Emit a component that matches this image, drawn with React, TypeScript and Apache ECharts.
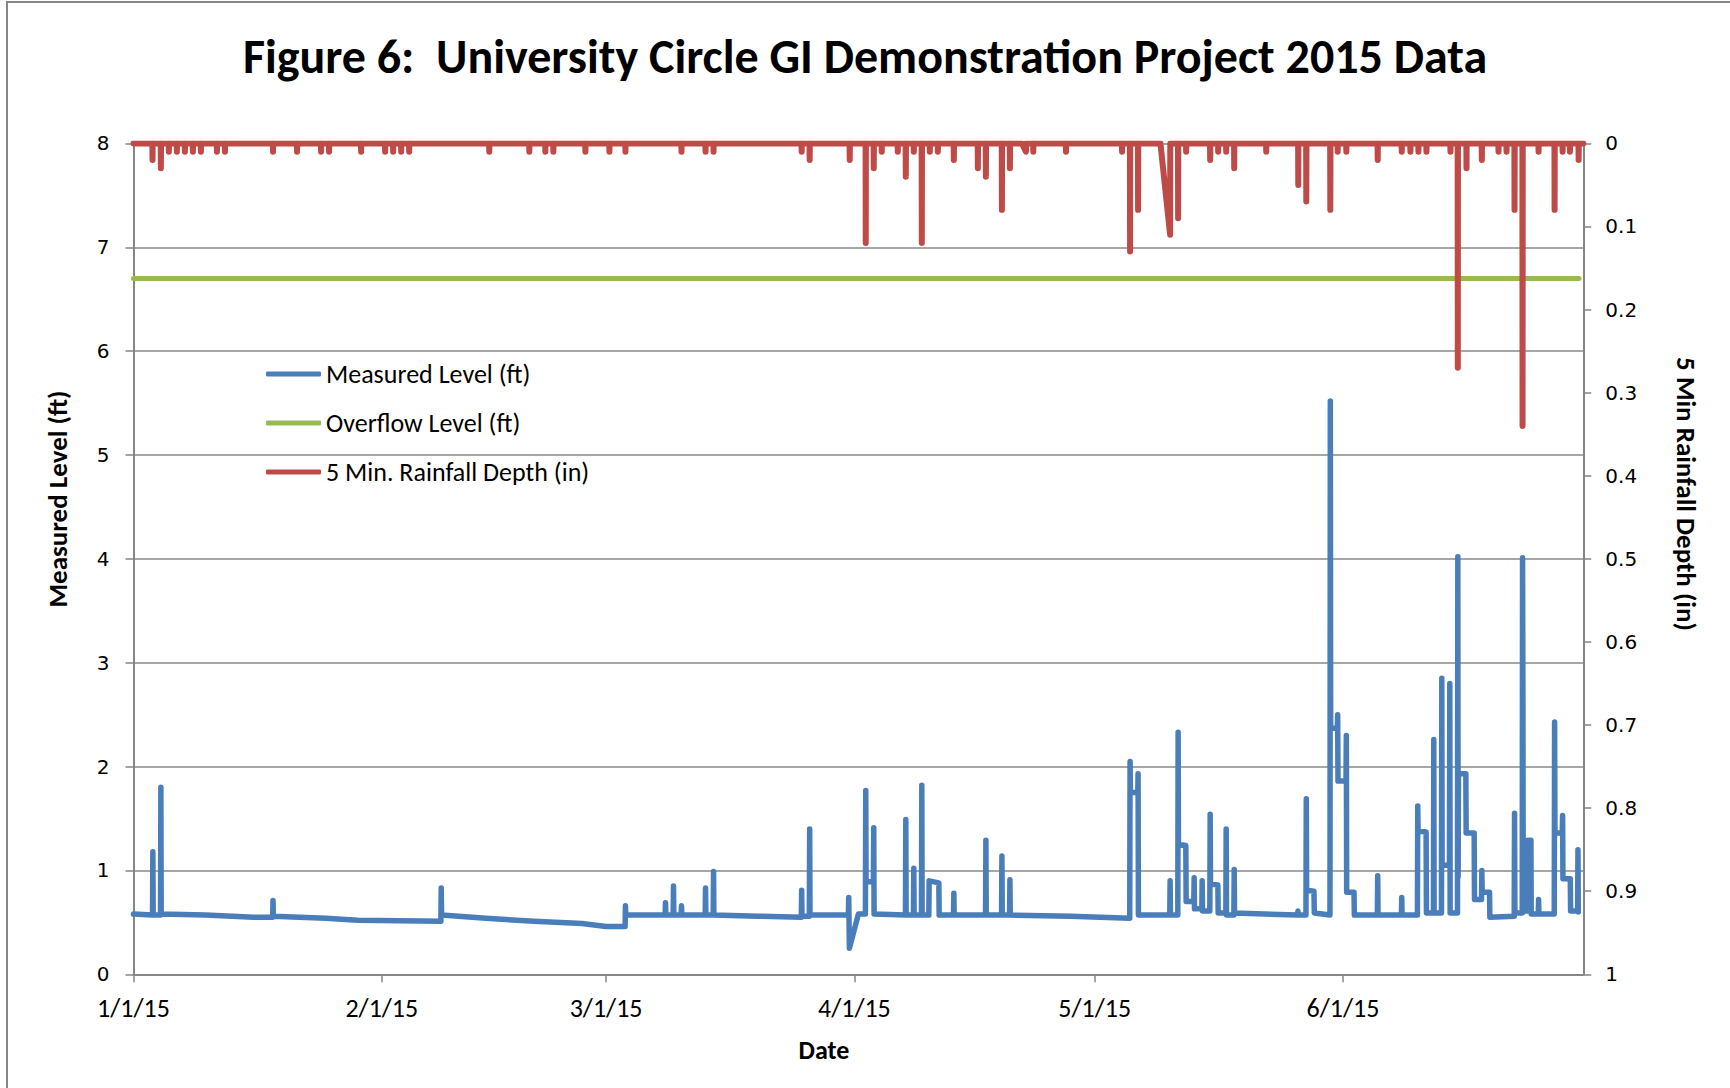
import React, { useEffect, useRef } from 'react';
import * as echarts from 'echarts';

const chartTitle = 'Figure 6:  University Circle GI Demonstration Project 2015 Data';
const seriesNames = ['Measured Level (ft)', 'Overflow Level (ft)', '5 Min. Rainfall Depth (in)'];
const leftAxisTitle = 'Measured Level (ft)';
const rightAxisTitle = '5 Min Rainfall Depth (in)';
const xAxisTitle = 'Date';
const dateRange = ['2015-01-01 00:00', '2015-07-01 00:00'];
const leftAxisRange = [0, 8, 1];
const rightAxisRange = [0, 1, 0.1];

const overflowLevel: [string, number][] = [
  ['2015-01-01 00:00', 6.7],
  ['2015-06-30 11:00', 6.7],
];

const measuredLevel: [string, number][] = [
  ['2015-01-01 00:00', 0.58],
  ['2015-01-03 09:00', 0.57], ['2015-01-03 10:00', 1.18], ['2015-01-03 11:00', 0.57],
  ['2015-01-04 09:00', 0.57], ['2015-01-04 10:00', 1.80], ['2015-01-04 11:00', 0.58],
  ['2015-01-10 00:00', 0.57],
  ['2015-01-16 00:00', 0.55],
  ['2015-01-18 09:00', 0.55], ['2015-01-18 10:00', 0.71], ['2015-01-18 11:00', 0.56],
  ['2015-01-25 00:00', 0.54],
  ['2015-01-29 00:00', 0.52],
  ['2015-02-08 09:00', 0.51], ['2015-02-08 10:00', 0.83], ['2015-02-08 11:00', 0.57],
  ['2015-02-14 00:00', 0.54],
  ['2015-02-20 00:00', 0.51],
  ['2015-02-26 00:00', 0.49],
  ['2015-03-01 00:00', 0.46],
  ['2015-03-03 09:00', 0.46], ['2015-03-03 10:00', 0.66], ['2015-03-03 11:00', 0.57],
  ['2015-03-08 09:00', 0.57], ['2015-03-08 10:00', 0.69], ['2015-03-08 11:00', 0.57],
  ['2015-03-09 09:00', 0.57], ['2015-03-09 10:00', 0.85], ['2015-03-09 11:00', 0.57],
  ['2015-03-10 09:00', 0.57], ['2015-03-10 10:00', 0.66], ['2015-03-10 11:00', 0.57],
  ['2015-03-13 09:00', 0.57], ['2015-03-13 10:00', 0.83], ['2015-03-13 11:00', 0.57],
  ['2015-03-14 09:00', 0.57], ['2015-03-14 10:00', 0.99], ['2015-03-14 11:00', 0.57],
  ['2015-03-20 00:00', 0.56],
  ['2015-03-25 09:00', 0.55], ['2015-03-25 10:00', 0.81], ['2015-03-25 11:00', 0.56],
  ['2015-03-26 09:00', 0.56], ['2015-03-26 10:00', 1.40], ['2015-03-26 11:00', 0.57],
  ['2015-03-31 06:00', 0.57], ['2015-03-31 07:00', 0.74], ['2015-03-31 09:00', 0.25],
  ['2015-04-01 12:00', 0.58],
  ['2015-04-02 09:00', 0.58], ['2015-04-02 10:00', 1.77], ['2015-04-02 11:00', 0.89],
  ['2015-04-03 09:00', 0.89], ['2015-04-03 10:00', 1.41], ['2015-04-03 11:00', 0.58],
  ['2015-04-07 09:00', 0.57], ['2015-04-07 10:00', 1.49], ['2015-04-07 11:00', 0.57],
  ['2015-04-08 09:00', 0.57], ['2015-04-08 10:00', 1.02], ['2015-04-08 11:00', 0.57],
  ['2015-04-09 09:00', 0.57], ['2015-04-09 10:00', 1.82], ['2015-04-09 11:00', 0.57],
  ['2015-04-10 07:00', 0.57], ['2015-04-10 08:00', 0.90], ['2015-04-11 13:00', 0.88],
  ['2015-04-11 14:00', 0.57],
  ['2015-04-13 09:00', 0.57], ['2015-04-13 10:00', 0.78], ['2015-04-13 11:00', 0.57],
  ['2015-04-17 09:00', 0.57], ['2015-04-17 10:00', 1.29], ['2015-04-17 11:00', 0.57],
  ['2015-04-19 09:00', 0.57], ['2015-04-19 10:00', 1.14], ['2015-04-19 11:00', 0.57],
  ['2015-04-20 09:00', 0.57], ['2015-04-20 10:00', 0.91], ['2015-04-20 11:00', 0.57],
  ['2015-04-28 00:00', 0.56],
  ['2015-05-05 09:00', 0.54], ['2015-05-05 10:00', 2.05], ['2015-05-05 11:00', 1.75],
  ['2015-05-06 09:00', 1.75], ['2015-05-06 10:00', 1.93], ['2015-05-06 11:00', 0.57],
  ['2015-05-10 09:00', 0.57], ['2015-05-10 10:00', 0.90], ['2015-05-10 11:00', 0.57],
  ['2015-05-11 09:00', 0.57], ['2015-05-11 10:00', 2.33], ['2015-05-11 11:00', 1.25],
  ['2015-05-12 09:00', 1.24], ['2015-05-12 10:00', 0.70],
  ['2015-05-13 09:00', 0.70], ['2015-05-13 10:00', 0.93], ['2015-05-13 11:00', 0.63],
  ['2015-05-14 09:00', 0.63], ['2015-05-14 10:00', 0.90], ['2015-05-14 11:00', 0.61],
  ['2015-05-15 09:00', 0.61], ['2015-05-15 10:00', 1.54], ['2015-05-15 11:00', 0.87],
  ['2015-05-16 09:00', 0.86], ['2015-05-16 10:00', 0.59],
  ['2015-05-17 09:00', 0.59], ['2015-05-17 10:00', 1.40], ['2015-05-17 11:00', 0.57],
  ['2015-05-18 09:00', 0.57], ['2015-05-18 10:00', 1.01], ['2015-05-18 11:00', 0.59],
  ['2015-05-26 08:00', 0.57], ['2015-05-26 09:00', 0.61], ['2015-05-26 10:00', 0.57],
  ['2015-05-27 09:00', 0.57], ['2015-05-27 10:00', 1.69], ['2015-05-27 11:00', 0.81],
  ['2015-05-28 09:00', 0.80], ['2015-05-28 10:00', 0.59],
  ['2015-05-30 09:00', 0.57], ['2015-05-30 10:00', 5.52], ['2015-05-30 11:00', 2.37],
  ['2015-05-31 07:00', 2.37], ['2015-05-31 08:00', 2.50], ['2015-05-31 09:00', 1.86],
  ['2015-06-01 09:00', 1.86], ['2015-06-01 10:00', 2.30], ['2015-06-01 11:00', 0.79],
  ['2015-06-02 09:00', 0.79], ['2015-06-02 10:00', 0.57],
  ['2015-06-05 07:00', 0.57], ['2015-06-05 08:00', 0.95], ['2015-06-05 09:00', 0.57],
  ['2015-06-08 07:00', 0.57], ['2015-06-08 08:00', 0.74], ['2015-06-08 09:00', 0.57],
  ['2015-06-10 07:00', 0.57], ['2015-06-10 08:00', 1.62], ['2015-06-10 09:00', 1.38],
  ['2015-06-11 09:00', 1.37], ['2015-06-11 10:00', 0.59],
  ['2015-06-12 07:00', 0.59], ['2015-06-12 08:00', 2.26], ['2015-06-12 09:00', 0.59],
  ['2015-06-13 07:00', 0.59], ['2015-06-13 08:00', 2.85], ['2015-06-13 09:00', 1.05],
  ['2015-06-14 07:00', 1.05], ['2015-06-14 08:00', 2.80], ['2015-06-14 09:00', 0.59],
  ['2015-06-15 07:00', 0.59], ['2015-06-15 08:00', 4.02], ['2015-06-15 09:00', 0.94],
  ['2015-06-15 10:00', 1.93], ['2015-06-16 08:00', 1.93], ['2015-06-16 09:00', 1.36],
  ['2015-06-17 09:00', 1.36], ['2015-06-17 10:00', 0.72],
  ['2015-06-18 07:00', 0.72], ['2015-06-18 08:00', 1.00], ['2015-06-18 09:00', 0.79],
  ['2015-06-19 07:00', 0.79], ['2015-06-19 08:00', 0.55],
  ['2015-06-22 09:00', 0.56], ['2015-06-22 10:00', 1.55], ['2015-06-22 11:00', 0.59],
  ['2015-06-23 09:00', 0.59], ['2015-06-23 10:00', 4.01], ['2015-06-23 11:00', 2.72],
  ['2015-06-23 12:00', 0.61],
  ['2015-06-24 01:00', 0.61], ['2015-06-24 02:00', 1.29], ['2015-06-24 11:00', 1.29],
  ['2015-06-24 12:00', 0.58],
  ['2015-06-25 09:00', 0.58], ['2015-06-25 10:00', 0.72], ['2015-06-25 11:00', 0.58],
  ['2015-06-27 09:00', 0.58], ['2015-06-27 10:00', 2.43], ['2015-06-27 11:00', 1.36],
  ['2015-06-28 09:00', 1.36], ['2015-06-28 10:00', 1.53], ['2015-06-28 11:00', 0.92],
  ['2015-06-29 09:00', 0.92], ['2015-06-29 10:00', 0.61],
  ['2015-06-30 07:00', 0.61], ['2015-06-30 08:00', 1.20], ['2015-06-30 09:00', 0.60],
  ['2015-06-30 11:00', 0.60],
];

// 5-minute rainfall events: [time, depth (in), optional time of the previous zero reading]
const rainEvents: [string, number, string?][] = [
  ['2015-01-03 09:00', 0.02], ['2015-01-04 10:00', 0.03], ['2015-01-05 10:00', 0.01],
  ['2015-01-06 10:00', 0.01], ['2015-01-07 10:00', 0.01], ['2015-01-08 10:00', 0.01],
  ['2015-01-09 10:00', 0.01], ['2015-01-11 10:00', 0.01], ['2015-01-12 10:00', 0.01],
  ['2015-01-18 10:00', 0.01], ['2015-01-21 10:00', 0.01], ['2015-01-24 10:00', 0.01],
  ['2015-01-25 10:00', 0.01], ['2015-01-29 10:00', 0.01], ['2015-02-01 10:00', 0.01],
  ['2015-02-02 10:00', 0.01], ['2015-02-03 10:00', 0.01], ['2015-02-04 10:00', 0.01],
  ['2015-02-14 10:00', 0.01], ['2015-02-19 10:00', 0.01], ['2015-02-21 10:00', 0.01],
  ['2015-02-22 10:00', 0.01], ['2015-02-26 10:00', 0.01], ['2015-03-01 10:00', 0.01],
  ['2015-03-03 10:00', 0.01], ['2015-03-10 10:00', 0.01], ['2015-03-13 10:00', 0.01],
  ['2015-03-14 10:00', 0.01], ['2015-03-25 10:00', 0.01], ['2015-03-26 10:00', 0.02],
  ['2015-03-31 10:00', 0.02], ['2015-04-02 10:00', 0.12], ['2015-04-03 10:00', 0.03],
  ['2015-04-04 10:00', 0.01], ['2015-04-06 10:00', 0.01], ['2015-04-07 10:00', 0.04],
  ['2015-04-08 10:00', 0.01], ['2015-04-09 10:00', 0.12], ['2015-04-10 10:00', 0.01],
  ['2015-04-11 10:00', 0.01], ['2015-04-13 10:00', 0.02], ['2015-04-16 10:00', 0.03],
  ['2015-04-17 10:00', 0.04], ['2015-04-19 10:00', 0.08], ['2015-04-20 10:00', 0.03],
  ['2015-04-22 10:00', 0.01, '2015-04-21 22:00'], ['2015-04-23 08:00', 0.01],
  ['2015-04-27 10:00', 0.01],
  ['2015-05-04 10:00', 0.01], ['2015-05-05 10:00', 0.13], ['2015-05-06 10:00', 0.08],
  ['2015-05-10 10:00', 0.11, '2015-05-09 05:00'], ['2015-05-11 10:00', 0.09],
  ['2015-05-12 10:00', 0.01],
  ['2015-05-15 10:00', 0.02], ['2015-05-16 10:00', 0.01], ['2015-05-17 10:00', 0.01],
  ['2015-05-18 10:00', 0.03], ['2015-05-22 10:00', 0.01], ['2015-05-26 10:00', 0.05],
  ['2015-05-27 10:00', 0.07], ['2015-05-30 10:00', 0.08], ['2015-05-31 08:00', 0.01],
  ['2015-06-01 10:00', 0.01], ['2015-06-05 08:00', 0.02], ['2015-06-08 08:00', 0.01],
  ['2015-06-09 10:00', 0.01], ['2015-06-10 10:00', 0.01], ['2015-06-11 10:00', 0.01],
  ['2015-06-14 10:00', 0.01], ['2015-06-15 08:00', 0.27], ['2015-06-16 10:00', 0.03],
  ['2015-06-18 08:00', 0.02], ['2015-06-20 10:00', 0.01], ['2015-06-21 10:00', 0.01],
  ['2015-06-22 10:00', 0.08], ['2015-06-23 10:00', 0.34], ['2015-06-25 10:00', 0.01],
  ['2015-06-27 10:00', 0.08], ['2015-06-28 10:00', 0.01], ['2015-06-29 08:00', 0.01],
  ['2015-06-30 10:00', 0.02],
];

const toMs = (s: string) => Date.parse(s.replace(' ', 'T'));
const HALF_HOUR = 30 * 60 * 1000;

function buildRainLine(): [number, number][] {
  const out: [number, number][] = [[toMs(dateRange[0]), 0]];
  rainEvents.forEach(([t, v, prevZero]) => {
    const ms = toMs(t);
    out.push([prevZero ? toMs(prevZero) : ms - HALF_HOUR, 0], [ms, v], [ms + HALF_HOUR, 0]);
  });
  out.push([toMs(dateRange[1]), 0]);
  return out;
}

const BLUE = '#4A7EBB';
const GREEN = '#98B954';
const RED = '#BE4B48';
const AXIS_GRAY = '#868686';
const GRID_GRAY = '#A6A6A6';
const SANS = 'Carlito, Lato, sans-serif';

export default function App() {
  const ref = useRef<HTMLDivElement>(null);

  useEffect(() => {
    if (!ref.current) return;
    const chart = echarts.init(ref.current, undefined, { renderer: 'svg' });
    const option: any = {
      animation: false,
      backgroundColor: '#ffffff',
      title: {
        text: chartTitle,
        left: 'center',
        top: 27,
        textStyle: { fontFamily: SANS, fontWeight: 'bold', fontSize: 48, color: '#000' },
      },
      legend: {
        orient: 'vertical',
        left: 261,
        top: 356,
        itemWidth: 55,
        itemHeight: 5,
        itemGap: 23,
        icon: 'roundRect',
        data: seriesNames,
        textStyle: { fontFamily: SANS, fontSize: 26, color: '#000' },
      },
      grid: { left: 133.5, right: 146.7, top: 143.4, bottom: 113.7, outerBoundsMode: 'none' },
      xAxis: {
        type: 'time',
        min: toMs(dateRange[0]),
        max: toMs(dateRange[1]),
        splitNumber: 6,
        axisLine: { lineStyle: { color: AXIS_GRAY, width: 2 } },
        axisTick: { show: true, length: 8, lineStyle: { color: AXIS_GRAY, width: 1.5 } },
        splitLine: { show: false },
        axisLabel: {
          margin: 21,
          showMaxLabel: false,
          color: '#000',
          fontFamily: SANS,
          fontSize: 26,
          formatter: (v: number) => {
            const d = new Date(v);
            return `${d.getMonth() + 1}/${d.getDate()}/${String(d.getFullYear()).slice(2)}`;
          },
        },
      },
      yAxis: [
        {
          type: 'value',
          position: 'left',
          min: leftAxisRange[0],
          max: leftAxisRange[1],
          interval: leftAxisRange[2],
          axisLine: { show: true, lineStyle: { color: AXIS_GRAY, width: 2 } },
          axisTick: { show: true, length: 8, lineStyle: { color: AXIS_GRAY, width: 1.5 } },
          splitLine: { show: true, lineStyle: { color: GRID_GRAY, width: 2 } },
          axisLabel: { margin: 24, color: '#000', fontFamily: 'DejaVu Sans, Verdana, sans-serif', fontSize: 20 },
        },
        {
          type: 'value',
          position: 'right',
          inverse: true,
          min: rightAxisRange[0],
          max: rightAxisRange[1],
          interval: rightAxisRange[2],
          axisLine: { show: true, lineStyle: { color: AXIS_GRAY, width: 2 } },
          axisTick: { show: true, length: 8, lineStyle: { color: AXIS_GRAY, width: 1.5 } },
          splitLine: { show: false },
          axisLabel: {
            margin: 22,
            color: '#000',
            fontFamily: 'DejaVu Sans, Verdana, sans-serif',
            fontSize: 20,
            formatter: (v: number) => (v === 0 || v === 1 ? String(v) : v.toFixed(1)),
          },
        },
      ],
      graphic: [
        {
          type: 'rect',
          z: -10,
          shape: { x: 7, y: 2, width: 1800, height: 1200 },
          style: { fill: 'none', stroke: AXIS_GRAY, lineWidth: 2 },
          silent: true,
        },
        {
          type: 'text',
          x: 57,
          y: 499,
          rotation: Math.PI / 2,
          style: { text: leftAxisTitle, font: `bold 27px ${SANS}`, fill: '#000', textAlign: 'center', textVerticalAlign: 'middle' },
        },
        {
          type: 'text',
          x: 1686,
          y: 494,
          rotation: -Math.PI / 2,
          style: { text: rightAxisTitle, font: `bold 27px ${SANS}`, fill: '#000', textAlign: 'center', textVerticalAlign: 'middle' },
        },
        {
          type: 'text',
          x: 824,
          y: 1050,
          style: { text: xAxisTitle, font: `bold 26px ${SANS}`, fill: '#000', textAlign: 'center', textVerticalAlign: 'middle' },
        },
      ],
      series: [
        {
          name: seriesNames[0],
          type: 'line',
          yAxisIndex: 0,
          data: measuredLevel.map(([t, v]) => [toMs(t), v]),
          showSymbol: false,
          color: BLUE,
          lineStyle: { color: BLUE, width: 5.5, cap: 'round', join: 'round' },
          clip: false,
        },
        {
          name: seriesNames[1],
          type: 'line',
          yAxisIndex: 0,
          data: overflowLevel.map(([t, v]) => [toMs(t), v]),
          showSymbol: false,
          color: GREEN,
          lineStyle: { color: GREEN, width: 5, cap: 'round', join: 'round' },
          clip: false,
        },
        {
          name: seriesNames[2],
          type: 'line',
          yAxisIndex: 1,
          data: buildRainLine(),
          showSymbol: false,
          color: RED,
          lineStyle: { color: RED, width: 6, cap: 'round', join: 'round' },
          clip: true,
        },
      ],
    };
    chart.setOption(option);
    return () => chart.dispose();
  }, []);

  return (
    <div
      ref={ref}
      style={{ position: 'fixed', left: 0, top: 0, width: 1730, height: 1088, background: '#fff' }}
    />
  );
}
